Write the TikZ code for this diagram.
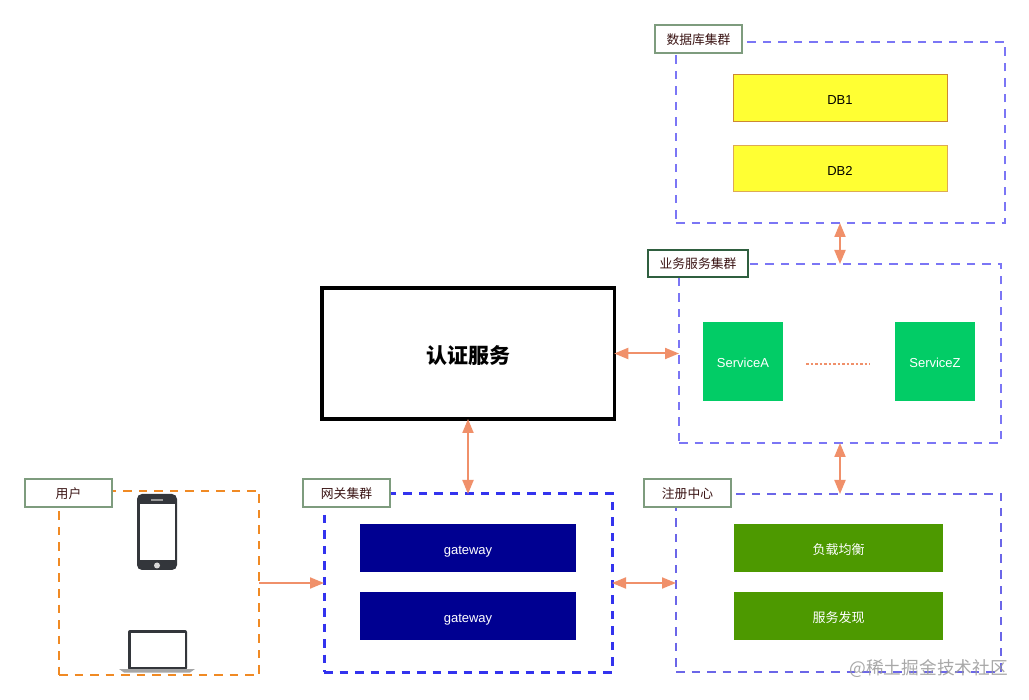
\documentclass[tikz,border=0pt]{standalone}
\usepackage{fontspec}
\setmainfont{Liberation Sans}
\newfontfamily\cjk{Noto Sans CJK SC}
\usetikzlibrary{arrows.meta}
\definecolor{linkc}{HTML}{F0906A}
\definecolor{labelc}{HTML}{7E9C7E}
\definecolor{darktxt}{HTML}{3A1414}
\definecolor{darkgrey}{HTML}{33363B}
\definecolor{usrc}{HTML}{F08A24}
\definecolor{gwc}{HTML}{3333EE}
\definecolor{regc}{HTML}{6B66E8}
\definecolor{svcc}{HTML}{7B76F5}
\definecolor{dbfill}{HTML}{FFFF33}
\definecolor{srvfill}{HTML}{02CC66}
\definecolor{gwfill}{HTML}{000091}
\definecolor{regfill}{HTML}{4D9900}
\tikzset{
	cluster/.style={draw, dash pattern=on 8.5pt off 7pt, inner sep=0pt, outer sep=0pt},
	tagbox/.style={draw=labelc, line width=1.6pt, fill=white, text=darktxt, font=\cjk\fontsize{12.8}{13}\selectfont, text height=11pt, text depth=0pt, inner sep=0pt, outer sep=0pt, minimum width=87pt, minimum height=28pt},
	itembox/.style={inner sep=0pt, outer sep=0pt, text=white, font=\fontsize{13}{13}\selectfont, text height=13pt, text depth=0pt},
	link/.style={color=linkc, line width=2pt, -{Triangle[length=14pt,width=11pt]}},
	bilink/.style={color=linkc, line width=2pt, {Triangle[length=14pt,width=11pt]}-{Triangle[length=14pt,width=11pt]}},
}
\begin{document}
\begin{tikzpicture}[x=1pt, y=-1pt]
	\useasboundingbox (0,0) rectangle (1029,700);
	% clusters
	\node[cluster, draw=usrc, line width=2pt, minimum width=200pt, minimum height=184pt] (usr) at (159,583) {};
	\node[cluster, draw=gwc, line width=3pt, minimum width=288pt, minimum height=178pt] (gw) at (468,583) {};
	\node[cluster, draw=regc, line width=2pt, minimum width=325pt, minimum height=178pt] (reg) at (838.5,583) {};
	\node[cluster, draw=svcc, line width=2pt, minimum width=322pt, minimum height=179pt] (svc) at (840,353.5) {};
	\node[cluster, draw=svcc, line width=2pt, minimum width=329pt, minimum height=181pt] (dbc) at (840.5,132.5) {};
	% auth
	\node[draw=black, line width=3.5pt, fill=white, inner sep=0pt, outer sep=0pt, minimum width=292.5pt, minimum height=131pt, font=\cjk\fontsize{21}{21}\selectfont\bfseries, text height=20pt, text depth=0pt] (auth) at (468,353.5) {认证服务};
	% cluster tags
	\node[tagbox] (usrtag) at (68.5,493) {用户};
	\node[tagbox] (gwtag) at (346.5,493) {网关集群};
	\node[tagbox] (regtag) at (687.5,493) {注册中心};
	\node[tagbox, draw={rgb,255:red,47;green,95;blue,63}, line width=1.2pt, minimum width=100pt, minimum height=27pt] (svctag) at (698,263.5) {业务服务集群};
	\node[tagbox] (dbctag) at (698.5,39) {数据库集群};
	% inner boxes
	\node[itembox, fill=dbfill, draw={rgb,255:red,204;green,136;blue,51}, line width=1pt, text=black, minimum width=214pt, minimum height=47pt] (db1) at (840,98.5) {DB1};
	\node[itembox, fill=dbfill, draw={rgb,255:red,221;green,170;blue,85}, line width=1pt, text=black, minimum width=214pt, minimum height=46pt] (db2) at (840,169) {DB2};
	\node[itembox, fill=srvfill, minimum width=80pt, minimum height=79pt] (srva) at (743,361.5) {ServiceA};
	\node[itembox, fill=srvfill, minimum width=80pt, minimum height=79pt] (srvz) at (935,361.5) {ServiceZ};
	\draw[color=linkc, line width=2pt, dash pattern=on 2.5pt off 2pt] ([xshift=23pt,yshift=-2.5pt]srva.east) -- ([xshift=-25pt,yshift=-2.5pt]srvz.west);
	\node[itembox, fill=gwfill, minimum width=216pt, minimum height=48pt] (gw1) at (468,548) {gateway};
	\node[itembox, fill=gwfill, minimum width=216pt, minimum height=48pt] (gw2) at (468,616) {gateway};
	\node[itembox, fill=regfill, font=\cjk\fontsize{13}{13}\selectfont, minimum width=209pt, minimum height=48pt] (lb) at (838.5,548) {负载均衡};
	\node[itembox, fill=regfill, font=\cjk\fontsize{13}{13}\selectfont, minimum width=209pt, minimum height=48pt] (disc) at (838.5,616) {服务发现};
	% phone
	\draw[fill=darkgrey, rounded corners=5pt, draw=none] (137,494) rectangle (177,570);
	\draw[fill=white, draw=none] (139.5,504.5) rectangle (174.5,560.5);
	\draw[fill=black!15, draw=none] (157,565.5) circle (3pt);
	\draw[fill=black!40, draw=none] (151,499.5) rectangle (163,501);
	% laptop
	\draw[fill=darkgrey, rounded corners=2pt, draw=none] (128,630) rectangle (187,670);
	\draw[fill=white, draw=none] (130.5,633) rectangle (184.5,667);
	\draw[fill=black!35, draw=none] (119,669) -- (195,669) -- (190,672.5) -- (124,672.5) -- cycle;
	% connectors
	\draw[link] (usr) -- (gw);
	\draw[bilink] (gw) -- (reg);
	\draw[bilink] (auth) -- (svc);
	\draw[bilink] (auth) -- (gw);
	\draw[bilink] (svc.south) -- (svc.south |- reg.north);
	\draw[bilink] (svc.north) -- (svc.north |- dbc.south);
	% mark
	\node[anchor=east, text=black!40, opacity=0.85, inner sep=0pt, font=\cjk\fontsize{17.7}{18}\selectfont] (mark) at (1008,669) {@稀土掘金技术社区};
\end{tikzpicture}
\end{document}
